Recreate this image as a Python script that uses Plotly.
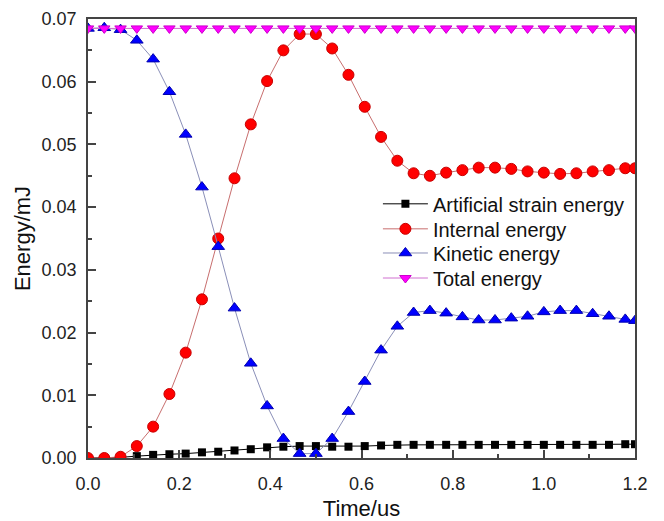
import plotly.graph_objects as go

time_us = [0.0, 0.0357, 0.0714, 0.1071, 0.1429, 0.1786, 0.2143, 0.25, 0.2857, 0.3214,
           0.3571, 0.3929, 0.4286, 0.4643, 0.5, 0.5357, 0.5714, 0.6071, 0.6429, 0.6786,
           0.7143, 0.75, 0.7857, 0.8214, 0.8571, 0.8929, 0.9286, 0.9643, 1.0, 1.0357,
           1.0714, 1.1071, 1.1429, 1.1786, 1.2]

artificial = [0.0, 0.0, 0.0001, 0.0003, 0.0005, 0.0006, 0.0007, 0.0009, 0.0010, 0.0012,
              0.0014, 0.0017, 0.0018, 0.0019, 0.0019, 0.0018, 0.0018, 0.0019, 0.0020, 0.0021,
              0.0021, 0.0021, 0.0021, 0.0021, 0.0021, 0.0021, 0.0021, 0.0021, 0.0021, 0.0021,
              0.0021, 0.0021, 0.0021, 0.0022, 0.0022]

internal = [0.0, 0.0, 0.0002, 0.0019, 0.0050, 0.0102, 0.0168, 0.0253, 0.0350, 0.0446,
            0.0532, 0.0601, 0.0650, 0.0676, 0.0676, 0.0653, 0.0611, 0.0560, 0.0512, 0.0474,
            0.0454, 0.0450, 0.0455, 0.0459, 0.0463, 0.0463, 0.0461, 0.0457, 0.0455, 0.0453,
            0.0454, 0.0457, 0.0459, 0.0462, 0.0462]

kinetic = [0.0685, 0.0686, 0.0683, 0.0666, 0.0636, 0.0584, 0.0516, 0.0432, 0.0337, 0.0239,
           0.0151, 0.0083, 0.0031, 0.0007, 0.0007, 0.0031, 0.0074, 0.0122, 0.0172, 0.0210,
           0.0232, 0.0235, 0.0231, 0.0225, 0.0220, 0.0220, 0.0223, 0.0226, 0.0233, 0.0235,
           0.0235, 0.0230, 0.0226, 0.0221, 0.0219]

total = [0.0685] * 35

series_names = ["Artificial strain energy", "Internal energy", "Kinetic energy", "Total energy"]

fig = go.Figure()
fig.add_trace(go.Scatter(x=time_us, y=artificial, name=series_names[0], mode="lines+markers",
                         legend="legend",
                         line=dict(color="#000000", width=1),
                         marker=dict(symbol="square", size=8, color="#000000")))
fig.add_trace(go.Scatter(x=time_us, y=internal, name=series_names[1], mode="lines+markers",
                         legend="legend2",
                         line=dict(color="#c86e6e", width=1),
                         marker=dict(symbol="circle", size=11, color="#ff0000",
                                     line=dict(color="#c80000", width=1))))
fig.add_trace(go.Scatter(x=time_us, y=kinetic, name=series_names[2], mode="lines+markers",
                         legend="legend3",
                         line=dict(color="#8a8fb8", width=1),
                         marker=dict(symbol="triangle-up", size=11, color="#0000ff",
                                     line=dict(color="#0000b0", width=1))))
fig.add_trace(go.Scatter(x=time_us, y=total, name=series_names[3], mode="lines+markers",
                         legend="legend4",
                         line=dict(color="#d070d0", width=1),
                         marker=dict(symbol="triangle-down", size=10, color="#ff00ff",
                                     line=dict(color="#cc00cc", width=1))))

axis_font = dict(family="Arial, Liberation Sans, sans-serif", size=18, color="#222222")
title_font = dict(family="Arial, Liberation Sans, sans-serif", size=22, color="#111111")
legend_font = dict(family="Arial, Liberation Sans, sans-serif", size=20, color="#111111")


def legend_box(ypos):
    return dict(x=0.53, y=ypos, xanchor="left", yanchor="middle",
                bgcolor="rgba(0,0,0,0)", borderwidth=0, font=legend_font, itemwidth=45)


fig.update_layout(
    width=664, height=521,
    margin=dict(l=88, r=29, t=19, b=63),
    paper_bgcolor="white", plot_bgcolor="white",
    font=dict(family="Arial, Liberation Sans, sans-serif", color="#111111"),
    showlegend=True,
    legend=legend_box(0.579),
    legend2=legend_box(0.522),
    legend3=legend_box(0.467),
    legend4=legend_box(0.410),
)
fig.update_xaxes(range=[0, 1.2], dtick=0.2, tickformat=".1f", showgrid=False, zeroline=False,
                 showline=True, linecolor="#444444", linewidth=1.5, mirror=True,
                 ticks="inside", ticklen=8, tickcolor="#444444", tickwidth=1.5,
                 minor=dict(dtick=0.1, ticks="inside", ticklen=4, tickcolor="#444444"),
                 tickfont=axis_font, ticklabelstandoff=9, automargin=False,
                 title=dict(text="Time/us", font=title_font, standoff=19))
fig.update_yaxes(range=[0, 0.07], dtick=0.01, tickformat=".2f", showgrid=False, zeroline=False,
                 showline=True, linecolor="#444444", linewidth=1.5, mirror=True,
                 ticks="inside", ticklen=8, tickcolor="#444444", tickwidth=1.5,
                 minor=dict(dtick=0.005, ticks="inside", ticklen=4, tickcolor="#444444"),
                 tickfont=axis_font, ticklabelstandoff=6, automargin=False,
                 title=dict(text="Energy/mJ", font=title_font, standoff=5))

fig.write_html("out.html", config={"displayModeBar": False},
               post_script="document.body.style.margin='0';document.body.style.overflow='hidden';")
